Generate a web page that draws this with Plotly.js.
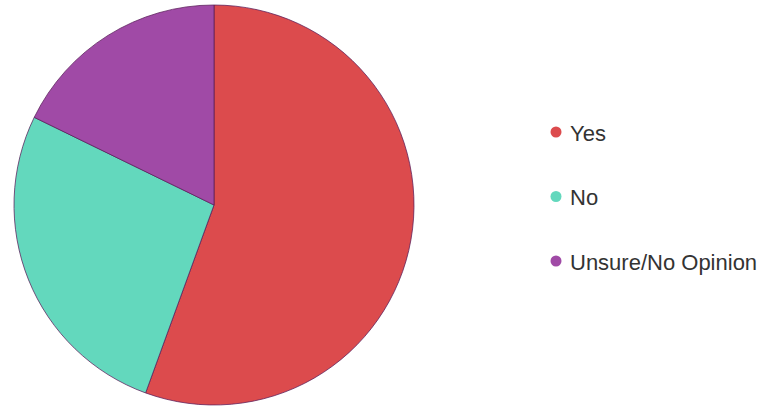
<!DOCTYPE html>
<html>
<head>
<meta charset="utf-8">
<script src="https://cdn.plot.ly/plotly-3.0.1.min.js"></script>
<style>html,body{margin:0;padding:0;background:#fff;}#chart{width:767px;height:407px;}</style>
</head>
<body>
<div id="chart"></div>
<script>
const labels = ["Yes", "No", "Unsure/No Opinion"];
const values = [25, 12, 8];
const colors = ["#dc4b4d", "#63d8bd", "#a04aa6"];

const pie = {
  type: "pie",
  labels: labels,
  values: values,
  sort: false,
  direction: "clockwise",
  rotation: 0,
  textinfo: "none",
  hoverinfo: "label+percent",
  showlegend: false,
  marker: { colors: colors, line: { color: "rgba(90,30,90,0.75)", width: 1 } },
  domain: { x: [14 / 767, 414 / 767], y: [2 / 407, 402 / 407] }
};

// Custom legend: dots as shapes, labels as annotations
const legendY0 = 132, legendStep = 64.5, dotX = 556, textX = 568, dotR = 5.5;
const shapes = [], annotations = [];
labels.forEach((lab, i) => {
  const cy = legendY0 + i * legendStep;
  shapes.push({
    type: "circle", xref: "paper", yref: "paper",
    x0: (dotX - dotR) / 767, x1: (dotX + dotR) / 767,
    y0: 1 - (cy + dotR) / 407, y1: 1 - (cy - dotR) / 407,
    fillcolor: colors[i], line: { width: 0 }
  });
  annotations.push({
    xref: "paper", yref: "paper", x: textX / 767, y: 1 - (cy + 1) / 407,
    xanchor: "left", yanchor: "middle", showarrow: false,
    text: lab, font: { family: "Arial, Liberation Sans, sans-serif", size: 22, color: "#333333" }
  });
});

Plotly.newPlot("chart", [pie], {
  width: 767, height: 407,
  margin: { l: 0, r: 0, t: 0, b: 0 },
  paper_bgcolor: "#ffffff",
  showlegend: false,
  shapes: shapes,
  annotations: annotations
}, { displayModeBar: false, staticPlot: true });
</script>
</body>
</html>
